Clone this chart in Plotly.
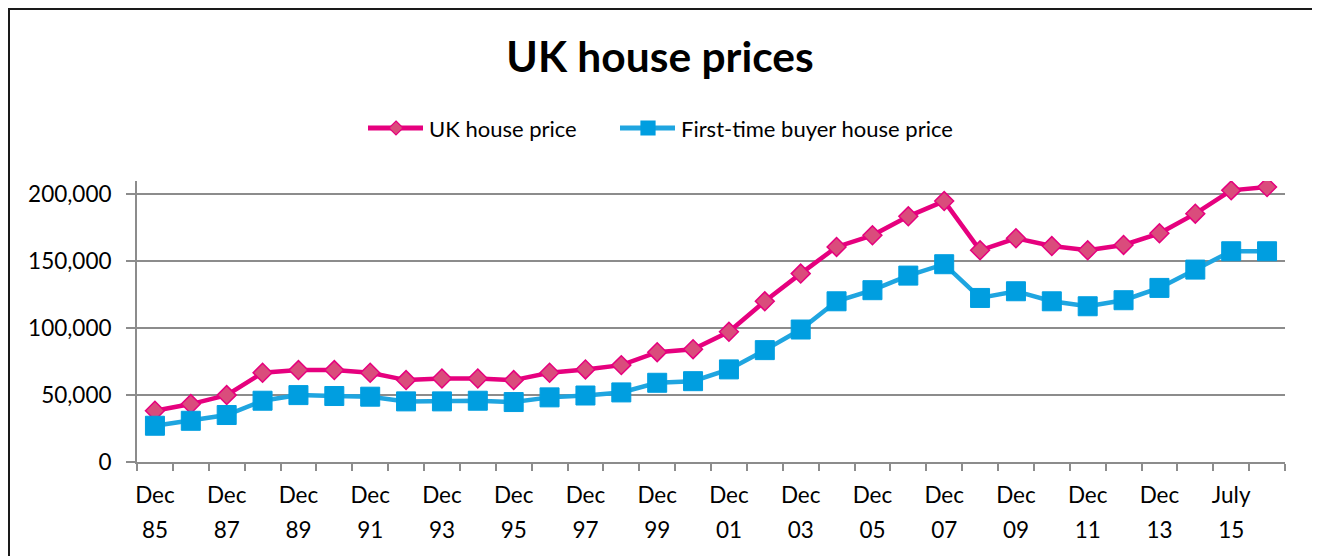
import plotly.graph_objects as go

categories = [
    "Dec 85", "Dec 86", "Dec 87", "Dec 88", "Dec 89", "Dec 90", "Dec 91", "Dec 92",
    "Dec 93", "Dec 94", "Dec 95", "Dec 96", "Dec 97", "Dec 98", "Dec 99", "Dec 00",
    "Dec 01", "Dec 02", "Dec 03", "Dec 04", "Dec 05", "Dec 06", "Dec 07", "Dec 08",
    "Dec 09", "Dec 10", "Dec 11", "Dec 12", "Dec 13", "Dec 14", "July 15", "Dec 15",
]

uk_house_price = [
    38300, 43300, 50000, 66700, 68700, 68700, 66700, 61200,
    62400, 62400, 61200, 66700, 69200, 72400, 82100, 84300,
    97300, 120100, 140800, 160700, 169400, 183600, 195000, 158200,
    167200, 161400, 158200, 162200, 170900, 185600, 203000, 205500,
]

ftb_house_price = [
    27100, 30800, 35100, 45800, 50000, 49300, 48800, 45300,
    45300, 45800, 44800, 48300, 49700, 52000, 59200, 60400,
    69200, 83600, 99000, 120100, 128400, 139300, 147800, 122600,
    127600, 120100, 116400, 120900, 130100, 143800, 157500, 157500,
]

y_tick_values = [0, 50000, 100000, 150000, 200000]
y_tick_labels = ["0", "50,000", "100,000", "150,000", "200,000"]

series_names = ["UK house price", "First-time buyer house price"]
line_colors = ["#E6007E", "#1FA5E0"]
marker_colors = ["#DA4C7C", "#009EE0"]

FONT = "Lato, 'Open Sans', sans-serif"
W, H = 1320, 556
ML, MR, MT, MB = 129, 43, 173, 102
PW, PH = W - ML - MR, H - MT - MB


def px(x):
    return (x - ML) / PW


def py(y):
    return (H - MB - y) / PH


idx = list(range(len(categories)))
label_idx = idx[::2]
month_text = [categories[i].split(" ")[0] for i in label_idx]
year_text = [categories[i].split(" ")[1] for i in label_idx]

fig = go.Figure()
fig.add_trace(go.Scatter(
    x=idx, y=uk_house_price, name=series_names[0], mode="lines+markers",
    line=dict(color=line_colors[0], width=4.5),
    marker=dict(symbol="diamond", size=14.5, color=marker_colors[0],
                line=dict(color=line_colors[0], width=1.5)),
))
fig.add_trace(go.Scatter(
    x=idx, y=ftb_house_price, name=series_names[1], mode="lines+markers",
    line=dict(color=line_colors[1], width=4.5),
    marker=dict(symbol="square", size=19, color=marker_colors[1],
                line=dict(color=marker_colors[1], width=1)),
))
# invisible helper trace so the second (year) category row is rendered
fig.add_trace(go.Scatter(
    x=idx, y=uk_house_price, xaxis="x2", mode="markers",
    marker=dict(opacity=0), hoverinfo="skip", showlegend=False,
))

# chart frame
shapes = [dict(type="rect", xref="paper", yref="paper",
               x0=px(1), x1=px(1306), y0=py(H + 20), y1=py(1),
               line=dict(color="#1a1a1a", width=2), fillcolor="white", layer="below")]

# manual legend (Excel-style longer line samples)
legend_y = 120
legend_items = [
    dict(line=(360, 415), mark=388, text=419, symbol="diamond"),
    dict(line=(612, 667), mark=640, text=671, symbol="square"),
]
annotations = []
for k, it in enumerate(legend_items):
    shapes.append(dict(type="line", xref="paper", yref="paper",
                       x0=px(it["line"][0]), x1=px(it["line"][1]),
                       y0=py(legend_y), y1=py(legend_y),
                       line=dict(color=line_colors[k], width=5)))
    if it["symbol"] == "diamond":
        path = "M 0 7 L 7 0 L 0 -7 L -7 0 Z"
        lc = line_colors[k]
    else:
        path = "M -7 -7 L 7 -7 L 7 7 L -7 7 Z"
        lc = marker_colors[k]
    shapes.append(dict(type="path", xref="paper", yref="paper",
                       xsizemode="pixel", ysizemode="pixel",
                       xanchor=px(it["mark"]), yanchor=py(legend_y),
                       path=path, fillcolor=marker_colors[k],
                       line=dict(color=lc, width=1.2)))
    annotations.append(dict(text=series_names[k], xref="paper", yref="paper",
                            x=px(it["text"]), y=py(legend_y), xanchor="left",
                            yanchor="middle", showarrow=False,
                            font=dict(size=22, family=FONT, color="black")))

fig.update_layout(
    width=W, height=H,
    paper_bgcolor="#e8e8e8", plot_bgcolor="white",
    margin=dict(l=ML, r=MR, t=MT, b=MB),
    font=dict(family=FONT, size=22.5, color="black"),
    title=dict(text="<b>UK house prices</b>", xref="container", x=652 / W,
               xanchor="center", y=1 - 49 / H, yanchor="middle",
               font=dict(size=42.5, family=FONT)),
    showlegend=False,
    shapes=shapes,
    annotations=annotations,
)

x_range = [-0.5, len(categories) - 0.5]
fig.update_layout(
    xaxis=dict(
        range=x_range,
        tickmode="array", tickvals=label_idx, ticktext=month_text,
        ticks="", ticklabelstandoff=12,
        showline=True, linecolor="#8c8c8c", linewidth=2,
        showgrid=False, zeroline=False,
        minor=dict(tickmode="array",
                   tickvals=[i - 0.5 for i in idx] + [len(idx) - 0.5],
                   ticks="outside", ticklen=7, tickcolor="#8c8c8c",
                   tickwidth=2, showgrid=False),
    ),
    xaxis2=dict(
        range=x_range, overlaying="x", side="bottom", anchor="y",
        tickmode="array", tickvals=label_idx, ticktext=year_text,
        ticks="", ticklabelstandoff=52,
        showline=False, showgrid=False, zeroline=False,
    ),
    yaxis=dict(
        range=[0, 210000],
        tickmode="array", tickvals=y_tick_values, ticktext=y_tick_labels,
        ticks="outside", ticklen=9, tickcolor="#8c8c8c", tickwidth=2,
        ticklabelstandoff=10,
        showline=True, linecolor="#8c8c8c", linewidth=2,
        showgrid=True, gridcolor="#8c8c8c", gridwidth=2, zeroline=False,
    ),
)

fig.write_html("out.html")
